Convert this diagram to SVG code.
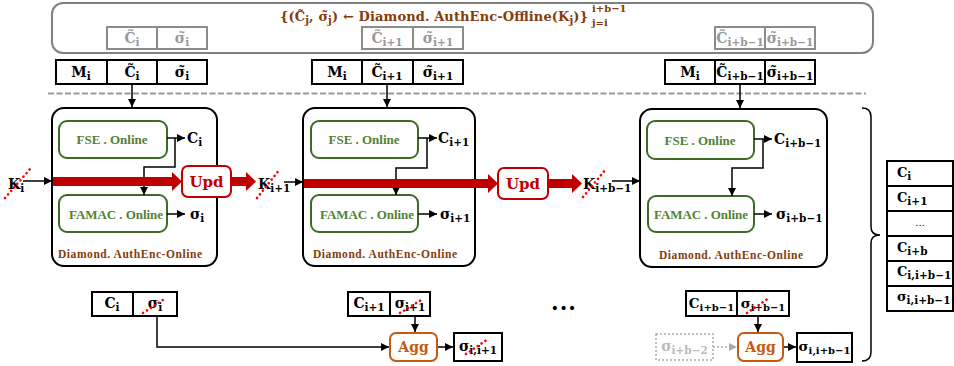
<svg xmlns="http://www.w3.org/2000/svg" width="954" height="366" viewBox="0 0 954 366">
<style>
.t{font-family:"DejaVu Serif","Liberation Serif",serif;font-weight:bold;font-size:14px;fill:#000}
.sb{font-size:10.5px}
.g{fill:#999}
.title{font-family:"DejaVu Serif","Liberation Serif",serif;font-weight:bold;font-size:13px;fill:#843c0c}
.grn{font-family:"Liberation Serif","DejaVu Serif",serif;font-weight:bold;font-size:13px;fill:#538135}
.brn{font-family:"Liberation Serif","DejaVu Serif",serif;font-weight:bold;font-size:11.5px;fill:#843c0c}
.upd{font-family:"DejaVu Serif","Liberation Serif",serif;font-weight:bold;font-size:15px;fill:#c00000}
.agg{font-family:"DejaVu Serif","Liberation Serif",serif;font-weight:bold;font-size:14px;fill:#c55a11}
.box{fill:#fff;stroke:#000;stroke-width:2}
.gbox{fill:none;stroke:#8c8c8c;stroke-width:2}
.blk{fill:#fff;stroke:#000;stroke-width:2}
.fn{fill:#fff;stroke:#3d6b26;stroke-width:2}
.ub{fill:#fff;stroke:#c00000;stroke-width:2}
.ab{fill:#fff;stroke:#c55a11;stroke-width:2}
.ln{fill:none;stroke:#000;stroke-width:1.5}
.red{fill:#c00000}
.strike{stroke:#ff0000;stroke-width:2.6;stroke-linecap:round;stroke-dasharray:0.1 4.6;fill:none}
</style>
<defs>
<marker id="ah" viewBox="0 0 10 10" refX="10" refY="5" markerWidth="8" markerHeight="8" markerUnits="userSpaceOnUse" orient="auto"><path d="M0,0 L10,5 L0,10 z" fill="#000"/></marker>
<marker id="ahg" viewBox="0 0 10 10" refX="10" refY="5" markerWidth="8" markerHeight="8" markerUnits="userSpaceOnUse" orient="auto"><path d="M0,0 L10,5 L0,10 z" fill="#aaa"/></marker>
</defs>

<!-- Offline frame -->
<g id="offline">
<rect x="52" y="3" width="821" height="50" rx="11" fill="none" stroke="#808080" stroke-width="2"/>
<text x="280" y="21" class="title" textLength="308" lengthAdjust="spacing">{(C̃<tspan class="sb" dy="3">j</tspan><tspan dy="-3">, σ̃</tspan><tspan class="sb" dy="3">j</tspan><tspan dy="-3">) ← Diamond. AuthEnc-Offline(K</tspan><tspan class="sb" dy="3">j</tspan><tspan dy="-3">)}</tspan></text>
<text x="592" y="12" class="title" style="font-size:10px">i+b−1</text>
<text x="592" y="26" class="title" style="font-size:10px">j=i</text>
</g>

<g id="pre1">
<rect x="107" y="27" width="50" height="22" class="gbox"/><rect x="157" y="27" width="50" height="22" class="gbox"/>
<text x="132" y="43" text-anchor="middle" class="t g">C̃<tspan class="sb" dy="3">i</tspan></text>
<text x="182" y="43" text-anchor="middle" class="t g">σ̃<tspan class="sb" dy="3">i</tspan></text>
</g>
<g id="pre2">
<rect x="362" y="27" width="51" height="22" class="gbox"/><rect x="413" y="27" width="50" height="22" class="gbox"/>
<text x="387" y="43" text-anchor="middle" class="t g">C̃<tspan class="sb" dy="3">i+1</tspan></text>
<text x="438" y="43" text-anchor="middle" class="t g">σ̃<tspan class="sb" dy="3">i+1</tspan></text>
</g>
<g id="pre3">
<rect x="715" y="27" width="50" height="22" class="gbox"/><rect x="765" y="27" width="50" height="22" class="gbox"/>
<text x="740" y="43" text-anchor="middle" class="t g">C̃<tspan class="sb" dy="3">i+b−1</tspan></text>
<text x="790" y="43" text-anchor="middle" class="t g">σ̃<tspan class="sb" dy="3">i+b−1</tspan></text>
</g>

<!-- input rows -->
<g id="in1">
<rect x="56" y="60" width="51" height="24" class="box"/><rect x="107" y="60" width="50" height="24" class="box"/><rect x="157" y="60" width="50" height="24" class="box"/>
<text x="81" y="77" text-anchor="middle" class="t">M<tspan class="sb" dy="3">i</tspan></text>
<text x="132" y="77" text-anchor="middle" class="t">C̃<tspan class="sb" dy="3">i</tspan></text>
<text x="182" y="77" text-anchor="middle" class="t">σ̃<tspan class="sb" dy="3">i</tspan></text>
</g>
<g id="in2">
<rect x="312" y="60" width="50" height="24" class="box"/><rect x="362" y="60" width="51" height="24" class="box"/><rect x="413" y="60" width="50" height="24" class="box"/>
<text x="337" y="77" text-anchor="middle" class="t">M<tspan class="sb" dy="3">i</tspan></text>
<text x="387" y="77" text-anchor="middle" class="t">C̃<tspan class="sb" dy="3">i+1</tspan></text>
<text x="438" y="77" text-anchor="middle" class="t">σ̃<tspan class="sb" dy="3">i+1</tspan></text>
</g>
<g id="in3">
<rect x="665" y="60" width="50" height="24" class="box"/><rect x="715" y="60" width="50" height="24" class="box"/><rect x="765" y="60" width="50" height="24" class="box"/>
<text x="690" y="77" text-anchor="middle" class="t">M<tspan class="sb" dy="3">i</tspan></text>
<text x="740" y="77" text-anchor="middle" class="t">C̃<tspan class="sb" dy="3">i+b−1</tspan></text>
<text x="790" y="77" text-anchor="middle" class="t">σ̃<tspan class="sb" dy="3">i+b−1</tspan></text>
</g>

<line x1="48" y1="93.5" x2="866" y2="93.5" stroke="#999" stroke-width="2" stroke-dasharray="6 2.5"/>

<!-- online blocks -->
<g id="block1">
<rect x="52" y="108" width="165" height="158" rx="12" class="blk"/>
<rect x="59" y="121" width="108" height="37" rx="8" class="fn"/>
<text x="112" y="143.5" text-anchor="middle" class="grn" textLength="71">FSE . Online</text>
<rect x="59" y="195" width="108" height="37" rx="8" class="fn"/>
<text x="116" y="218.5" text-anchor="middle" class="grn" textLength="94">FAMAC . Online</text>
<text x="130" y="258" text-anchor="middle" class="brn" textLength="144">Diamond. AuthEnc-Online</text>
</g>
<g id="block2">
<rect x="303" y="108" width="172" height="158" rx="12" class="blk"/>
<rect x="311" y="121" width="107" height="37" rx="8" class="fn"/>
<text x="364" y="143.5" text-anchor="middle" class="grn" textLength="71">FSE . Online</text>
<rect x="311" y="195" width="107" height="37" rx="8" class="fn"/>
<text x="367" y="218.5" text-anchor="middle" class="grn" textLength="94">FAMAC . Online</text>
<text x="385" y="258" text-anchor="middle" class="brn" textLength="144">Diamond. AuthEnc-Online</text>
</g>
<g id="block3">
<rect x="640" y="109" width="187" height="158" rx="12" class="blk"/>
<rect x="647" y="121" width="107" height="38" rx="8" class="fn"/>
<text x="700" y="144.5" text-anchor="middle" class="grn" textLength="71">FSE . Online</text>
<rect x="648" y="196" width="106" height="36" rx="8" class="fn"/>
<text x="701" y="218.5" text-anchor="middle" class="grn" textLength="94">FAMAC . Online</text>
<text x="731" y="259" text-anchor="middle" class="brn" textLength="144">Diamond. AuthEnc-Online</text>
</g>

<!-- connectors -->
<g id="connectors">
<path class="ln" d="M132,84 V107" marker-end="url(#ah)"/>
<path class="ln" d="M387,84 V107" marker-end="url(#ah)"/>
<path class="ln" d="M740,84 V108" marker-end="url(#ah)"/>
<path class="ln" d="M167,138 H185" marker-end="url(#ah)"/>
<path class="ln" d="M175,138 V167 H144 V195" marker-end="url(#ah)"/>
<path class="ln" d="M167,214 H185" marker-end="url(#ah)"/>
<path class="ln" d="M418,138 H437" marker-end="url(#ah)"/>
<path class="ln" d="M427,138 V168 H396 V195" marker-end="url(#ah)"/>
<path class="ln" d="M418,214 H437" marker-end="url(#ah)"/>
<path class="ln" d="M754,139 H772" marker-end="url(#ah)"/>
<path class="ln" d="M763,139 V168 H732 V196" marker-end="url(#ah)"/>
<path class="ln" d="M754,214 H772" marker-end="url(#ah)"/>
<path class="ln" d="M23,181 H52" marker-end="url(#ah)"/>
<path class="ln" d="M284,182 H303" marker-end="url(#ah)"/>
<path class="ln" d="M612,181 H640" marker-end="url(#ah)"/>
<polygon class="red" points="53,177 172,177 172,172 182,181.5 172,191 172,186 53,186"/>
<polygon class="red" points="231,177 246,177 246,172 256,181.5 246,191 246,186 231,186"/>
<polygon class="red" points="304,179 488,179 488,174 498,183.5 488,193 488,188 304,188"/>
<polygon class="red" points="548,179 572,179 572,174 582,183.5 572,193 572,188 548,188"/>
<path class="ln" d="M157,316 V347 H389" marker-end="url(#ah)"/>
<path class="ln" d="M415,316 V332" marker-end="url(#ah)"/>
<path class="ln" d="M437,347 H453" marker-end="url(#ah)"/>
<path class="ln" d="M758,316 V332" marker-end="url(#ah)"/>
<path d="M713,347 H737" fill="none" stroke="#aaa" stroke-width="1.5" stroke-dasharray="2 2" marker-end="url(#ahg)"/>
<path class="ln" d="M783,347 H796" marker-end="url(#ah)"/>
<path d="M862,108 Q871,108 871,117 V227 Q871,235 880,235 Q871,235 871,243 V352 Q871,361 862,361" fill="none" stroke="#000" stroke-width="1.5"/>
</g>

<!-- Upd nodes -->
<g id="upd1">
<rect x="182" y="166" width="49" height="31" rx="6" class="ub"/>
<text x="206.5" y="187" text-anchor="middle" class="upd">Upd</text>
</g>
<g id="upd2">
<rect x="498" y="168" width="50" height="31" rx="6" class="ub"/>
<text x="523" y="189" text-anchor="middle" class="upd">Upd</text>
</g>

<!-- outputs C, sigma -->
<g id="out1">
<text x="187" y="143" class="t">C<tspan class="sb" dy="3">i</tspan></text>
<text x="190" y="219" class="t">σ<tspan class="sb" dy="3">i</tspan></text>
</g>
<g id="out2">
<text x="438" y="143" class="t">C<tspan class="sb" dy="3">i+1</tspan></text>
<text x="440" y="219" class="t">σ<tspan class="sb" dy="3">i+1</tspan></text>
</g>
<g id="out3">
<text x="774" y="144" class="t">C<tspan class="sb" dy="3">i+b−1</tspan></text>
<text x="776" y="219" class="t">σ<tspan class="sb" dy="3">i+b−1</tspan></text>
</g>

<!-- keys -->
<g id="key1">
<text x="8" y="189" class="t">K<tspan class="sb" dy="3">i</tspan></text>
<line x1="5" y1="198" x2="30" y2="169" class="strike"/>
</g>
<g id="key2">
<text x="258" y="189" class="t">K<tspan class="sb" dy="3">i+1</tspan></text>
<line x1="257" y1="198" x2="280" y2="169" class="strike"/>
</g>
<g id="key3">
<text x="583" y="189" class="t">K<tspan class="sb" dy="3">i+b−1</tspan></text>
<line x1="583" y1="197" x2="606" y2="169" class="strike"/>
</g>

<!-- bottom tuples -->
<g id="tuple1">
<rect x="92" y="292" width="41" height="24" class="box"/><rect x="133" y="292" width="44" height="24" class="box"/>
<text x="112" y="308" text-anchor="middle" class="t">C<tspan class="sb" dy="3">i</tspan></text>
<text x="155" y="308" text-anchor="middle" class="t">σ<tspan class="sb" dy="3">i</tspan></text>
<line x1="143" y1="313" x2="166" y2="298" class="strike"/>
</g>
<g id="tuple2">
<rect x="348" y="292" width="42" height="24" class="box"/><rect x="390" y="292" width="40" height="24" class="box"/>
<text x="369" y="308" text-anchor="middle" class="t">C<tspan class="sb" dy="3">i+1</tspan></text>
<text x="410" y="308" text-anchor="middle" class="t">σ<tspan class="sb" dy="3">i+1</tspan></text>
<line x1="400" y1="313" x2="423" y2="299" class="strike"/>
</g>
<g id="tuple3">
<rect x="686" y="291" width="51" height="25" class="box"/><rect x="737" y="291" width="52" height="25" class="box"/>
<text x="711.5" y="308" text-anchor="middle" class="t" style="font-size:13.5px">C<tspan class="sb" dy="3" style="font-size:10px">i+b−1</tspan></text>
<text x="763" y="308" text-anchor="middle" class="t" style="font-size:13.5px">σ<tspan class="sb" dy="3" style="font-size:10px">i+b−1</tspan></text>
<line x1="747" y1="313" x2="769" y2="298" class="strike"/>
</g>

<text x="564" y="310" text-anchor="middle" class="t" style="font-size:22px;letter-spacing:1px">...</text>

<g id="agg1">
<rect x="390" y="333" width="47" height="28" rx="6" class="ab"/>
<text x="413.5" y="352" text-anchor="middle" class="agg">Agg</text>
</g>
<g id="agg2">
<rect x="738" y="333" width="45" height="28" rx="6" class="ab"/>
<text x="760.5" y="352" text-anchor="middle" class="agg">Agg</text>
</g>
<g id="res1">
<rect x="454" y="333" width="48" height="28" class="box"/>
<text x="478" y="351" text-anchor="middle" class="t">σ<tspan class="sb" dy="3">i,i+1</tspan></text>
<line x1="466" y1="354" x2="488" y2="339" class="strike"/>
</g>
<g id="prev">
<rect x="656" y="334" width="57" height="26" fill="none" stroke="#aaa" stroke-width="1.5" stroke-dasharray="2 2"/>
<text x="684.5" y="351" text-anchor="middle" class="t" style="fill:#bbb">σ<tspan class="sb" dy="3">i+b−2</tspan></text>
</g>
<g id="res2">
<rect x="797" y="333" width="55" height="29" class="box"/>
<text x="824.5" y="351" text-anchor="middle" class="t" style="font-size:13.5px">σ<tspan class="sb" dy="3" style="font-size:10px">i,i+b−1</tspan></text>
</g>

<!-- final list -->
<g id="list">
<rect x="887" y="161" width="66" height="25" class="box"/>
<rect x="887" y="186" width="66" height="25" class="box"/>
<rect x="887" y="211" width="66" height="25" class="box"/>
<rect x="887" y="236" width="66" height="25" class="box"/>
<rect x="887" y="261" width="66" height="25" class="box"/>
<rect x="887" y="286" width="66" height="25" class="box"/>
<text x="897" y="177" class="t" style="font-size:13px">C<tspan class="sb" dy="3">i</tspan></text>
<text x="897" y="202" class="t" style="font-size:13px">C<tspan class="sb" dy="3">i+1</tspan></text>
<text x="920" y="226" text-anchor="middle" class="t" style="font-size:10px;font-weight:normal">...</text>
<text x="897" y="252" class="t" style="font-size:13px">C<tspan class="sb" dy="3">i+b</tspan></text>
<text x="897" y="276" class="t" style="font-size:13px">C<tspan class="sb" dy="3">i,i+b−1</tspan></text>
<text x="897" y="301" class="t" style="font-size:13px">σ<tspan class="sb" dy="3">i,i+b−1</tspan></text>
</g>
</svg>
